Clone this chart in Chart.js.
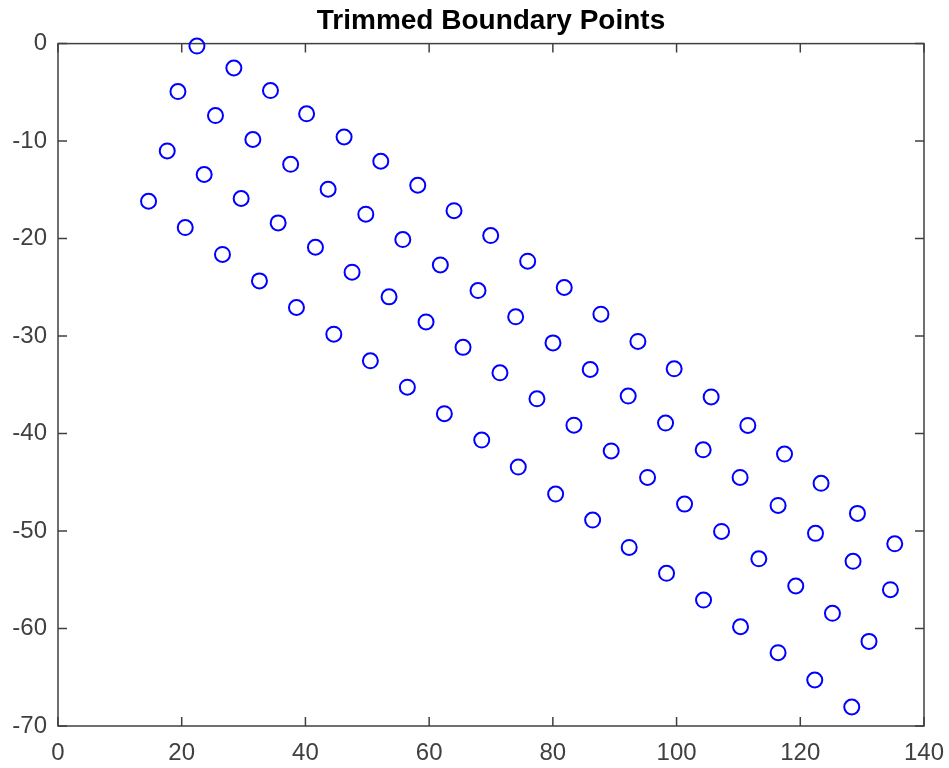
<!DOCTYPE html>
<html>
<head>
<meta charset="utf-8">
<script src="https://cdn.jsdelivr.net/npm/chart.js@4/dist/chart.umd.min.js"></script>
<style>
  body { margin: 0; background: #fff; }
  #wrap { width: 949px; height: 768px; position: relative; }
</style>
</head>
<body>
<div id="wrap"><canvas id="myScatter"></canvas></div>
<script>
// four diagonal rows of boundary points
const rowAx = [22.46, 28.43, 34.35, 40.19, 46.25, 52.18, 58.16, 64.02, 69.95, 75.93, 81.84, 87.77, 93.75, 99.61, 105.59, 111.52, 117.45, 123.36, 129.24, 135.27];
const rowAy = [-0.25, -2.50, -4.82, -7.20, -9.58, -12.07, -14.53, -17.14, -19.69, -22.32, -25.02, -27.76, -30.55, -33.36, -36.24, -39.17, -42.11, -45.11, -48.19, -51.31];

const rowBx = [19.39, 25.46, 31.50, 37.61, 43.67, 49.76, 55.74, 61.81, 67.90, 73.99, 80.02, 86.04, 92.18, 98.22, 104.30, 110.27, 116.41, 122.46, 128.53, 134.57];
const rowBy = [-4.92, -7.38, -9.84, -12.38, -14.94, -17.50, -20.10, -22.70, -25.33, -28.03, -30.70, -33.43, -36.16, -38.93, -41.67, -44.50, -47.37, -50.24, -53.11, -56.02];

const rowCx = [17.66, 23.63, 29.61, 35.59, 41.62, 47.54, 53.52, 59.50, 65.48, 71.45, 77.43, 83.41, 89.43, 95.31, 101.29, 107.27, 113.30, 119.27, 125.20, 131.11];
const rowCy = [-11.01, -13.43, -15.89, -18.39, -20.89, -23.45, -25.98, -28.55, -31.16, -33.77, -36.44, -39.14, -41.78, -44.50, -47.24, -50.04, -52.85, -55.64, -58.44, -61.32];

const rowDx = [14.64, 20.57, 26.59, 32.57, 38.55, 44.59, 50.50, 56.48, 62.46, 68.50, 74.41, 80.45, 86.43, 92.34, 98.38, 104.36, 110.34, 116.41, 122.34, 128.32];
const rowDy = [-16.17, -18.87, -21.63, -24.34, -27.07, -29.81, -32.54, -35.24, -37.96, -40.67, -43.44, -46.21, -48.88, -51.68, -54.34, -57.08, -59.82, -62.48, -65.28, -68.05];

const xTicks = [0, 20, 40, 60, 80, 100, 120, 140];
const yTicks = [0, -10, -20, -30, -40, -50, -60, -70];

const rows = [[rowAx, rowAy], [rowBx, rowBy], [rowCx, rowCy], [rowDx, rowDy]];
const points = [];
rows.forEach(([xs, ys]) => xs.forEach((x, i) => points.push({ x: x, y: ys[i] })));

const tickFont = { family: '"Liberation Sans", Arial, sans-serif', size: 24 };

// matlab style box with inward ticks on all four sides
const axesBox = {
    id: 'axesBox',
    beforeDatasetsDraw(chart) {
        const { ctx, chartArea: a, scales } = chart;
        const len = 9;
        ctx.save();
        ctx.strokeStyle = '#404040';
        ctx.lineWidth = 1.5;
        ctx.strokeRect(a.left, a.top, a.right - a.left, a.bottom - a.top);
        ctx.beginPath();
        xTicks.forEach((v) => {
            const px = scales.x.getPixelForValue(v);
            ctx.moveTo(px, a.bottom); ctx.lineTo(px, a.bottom - len);
            ctx.moveTo(px, a.top); ctx.lineTo(px, a.top + len);
        });
        yTicks.forEach((v) => {
            const py = scales.y.getPixelForValue(v);
            ctx.moveTo(a.left, py); ctx.lineTo(a.left + len, py);
            ctx.moveTo(a.right, py); ctx.lineTo(a.right - len, py);
        });
        ctx.stroke();
        ctx.restore();
    },
};

const ctx = document.getElementById('myScatter').getContext('2d');
new Chart(ctx, {
    type: 'scatter',
    data: {
        datasets: [
            {
                label: 'Trimmed boundary points',
                data: points,
                borderColor: 'rgb(0, 0, 255)',
                backgroundColor: 'rgba(0, 0, 0, 0)',
                pointRadius: 7.5,
                pointBorderWidth: 2,
                pointHoverRadius: 7.5,
                clip: false,
            },
        ],
    },
    options: {
        responsive: true,
        maintainAspectRatio: false,
        animation: false,
        layout: { padding: { left: 0, right: 25, top: 0, bottom: 0 } },
        plugins: {
            legend: { display: false },
            tooltip: { enabled: false },
            title: {
                display: true,
                text: 'Trimmed Boundary Points',
                color: '#000',
                fullSize: false,
                font: { family: '"Liberation Sans", Arial, sans-serif', size: 28, weight: 'bold', lineHeight: 1.2 },
                padding: { top: 4, bottom: 6 },
            },
        },
        scales: {
            x: {
                type: 'linear',
                min: 0,
                max: 140,
                grid: { display: false, drawTicks: false },
                border: { display: false },
                afterFit: (scale) => {
                    scale.height = 42;
                    scale.paddingLeft = 0;
                    scale.paddingRight = 0;
                },
                afterBuildTicks: (scale) => { scale.ticks = xTicks.map((v) => ({ value: v })); },
                ticks: { color: '#404040', font: tickFont, padding: 13, maxRotation: 0 },
            },
            y: {
                type: 'linear',
                min: -70,
                max: 0,
                grid: { display: false, drawTicks: false },
                border: { display: false },
                afterFit: (scale) => {
                    scale.width = 58;
                    scale.paddingTop = 0;
                    scale.paddingBottom = 0;
                },
                afterBuildTicks: (scale) => { scale.ticks = yTicks.map((v) => ({ value: v })); },
                ticks: { color: '#404040', font: tickFont, padding: 11 },
            },
        },
    },
    plugins: [axesBox],
});
</script>
</body>
</html>
